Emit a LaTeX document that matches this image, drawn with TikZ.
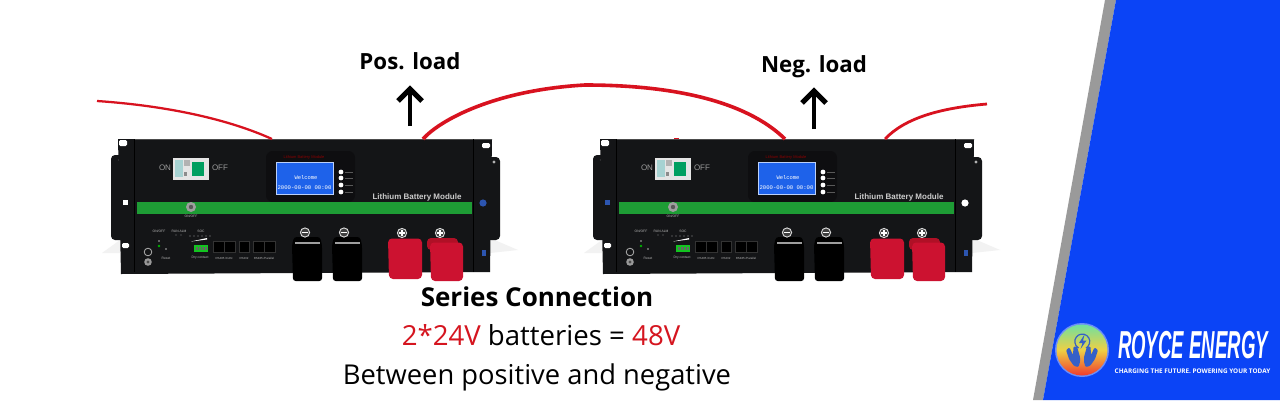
\documentclass[tikz,border=0pt]{standalone}
\usepackage{fontspec}
\setmainfont{Open Sans}
\newfontfamily\hwfont{Liberation Sans}
\newfontfamily\scrfont{Liberation Mono}
\usetikzlibrary{arrows.meta}
\definecolor{panelblack}{HTML}{141517}
\definecolor{barblue}{HTML}{0B44F6}
\definecolor{bandgray}{HTML}{9A9A9A}
\definecolor{wirered}{HTML}{D8121F}
\definecolor{txtred}{HTML}{D5151F}
\definecolor{capred}{HTML}{CC1230}
\definecolor{capdark}{HTML}{B01026}
\definecolor{barblack}{HTML}{0E0E10}
\definecolor{ledgreen}{HTML}{1E9C35}
\definecolor{lcdblue}{HTML}{1E62EA}
\definecolor{handblue}{HTML}{3560C8}
\definecolor{holeblue}{HTML}{2C55B0}
\definecolor{logotop}{HTML}{6FE0A0}
\definecolor{logomid}{HTML}{EFD043}
\definecolor{logobot}{HTML}{F03A2E}
\tikzset{
  wire/.style={draw=wirered,line cap=butt},
  upmark/.style={draw=black,line width=3.2pt,line join=miter},
  panellab/.style={inner sep=0pt,text=white!72!black,font=\hwfont\fontsize{2.5}{3}\selectfont},
  caption/.style={inner sep=0pt,anchor=base,font=\fontsize{20.7}{24}\selectfont},
  loadlab/.style={inner sep=0pt,anchor=base,font=\bfseries\fontsize{16.7}{20}\selectfont},
  portblock/.style={fill=black,draw=white!20!black,line width=.3pt},
  negcap/.style={fill=black,rounded corners=2pt},
  poscap/.style={fill=capred,rounded corners=3pt},
  termring/.style={fill=black!75,draw=white!85!black,line width=.7pt},
  batterymod/.pic={
    % soft floor glow
    \fill[black!5] (102,253) -- (120,240) -- (120,253) -- cycle;
    \fill[black!5] (490,238) -- (518,250) -- (490,253) -- cycle;
    % handles
    \fill[panelblack,rounded corners=3pt] (111,155) rectangle (136,240);
    \fill[panelblack,rounded corners=3pt] (476,157) rectangle (500,240);
    \fill[white!45!black] (119,160) circle (1.2);
    \fill[white!70!black] (494,162) circle (1.6);
    % front panel
    \fill[panelblack] (118,139) -- (492,139) -- (490,272) -- (121,274) -- cycle;
    \draw[white!30!black,line width=.5pt] (134,139) -- (492,139);
    \draw[black,line width=.3pt] (134,139) -- (134,272) (473,139) -- (473,272);
    % mounting holes
    \fill[white,rounded corners=1pt] (119,140) rectangle (127,146);
    \fill[white,rounded corners=1pt] (482,143) rectangle (490,148);
    \fill[white,rounded corners=1pt] (122,243) rectangle (129,248);
    \fill[holeL] (123,200) rectangle (128,205);
    \fill[holeR] (483,203) circle (3.6);
    \fill[holeblue] (482,250) rectangle (486,256);
    % breaker
    \fill[white!90!black] (173,158) rectangle (209,180);
    \fill[teal!75!green] (192,162) rectangle (204,176);
    \fill[teal!35!white] (175,160) rectangle (183,177);
    \fill[black!30] (184,160) rectangle (190,166);
    \fill[black!45] (184,172) rectangle (187,176);
    \node[panellab,text=white!60!black,font=\hwfont\fontsize{6}{6}\selectfont] (-on) at (165,168) {ON};
    \node[panellab,text=white!60!black,font=\hwfont\fontsize{6}{6}\selectfont] (-off) at (220,168) {OFF};
    % display
    \fill[barblack,rounded corners=5pt] (266,151) rectangle (355,202);
    \node[inner sep=0pt,text=red!55!black,font=\hwfont\fontsize{3}{3}\selectfont] (-disp) at (304,157) {Lithium Battery Module};
    \fill[lcdblue] (276,162) rectangle (333,194);
    \draw[white!70!lcdblue,line width=.4pt] (276,162) rectangle (333,194);
    \node[inner sep=0pt,text=white,font=\scrfont\fontsize{4.1}{5}\selectfont] (-wel) at (306,178) {Welcome};
    \node[inner sep=0pt,text=white,font=\scrfont\fontsize{4.2}{5}\selectfont] (-date) at (304.5,188) {2000-00-00 00:00};
    \foreach \py in {172,178,185,192}{
      \fill[white] (341,\py) circle (2.4);
      \draw[white!35!black,line width=.6pt] (345,\py) -- (353,\py);
    }
    % label and green bar
    \fill[ledgreen] (137,202) rectangle (472,214);
    \node[inner sep=0pt,text=white!80!black,font=\hwfont\bfseries\fontsize{6}{7}\selectfont] (-mod) at (417,197) {Lithium Battery Module};
    \fill[white!62!black] (191,207) circle (5);
    \fill[white!35!black] (191,207) circle (2.2);
    \node[panellab] (-key) at (191,216.5) {ON/OFF};
    % lower left indicators
    \node[panellab] (-sw) at (159,231) {ON/OFF};
    \node[panellab] (-run) at (179,231) {RUN ALM};
    \node[panellab] (-soc) at (201,231) {SOC};
    \fill[white!50!black] (176,235) circle (.6) (181,235) circle (.6);
    \foreach \dx in {190,194,198,202,206,210}{\fill[white!60!black] (\dx,236) circle (.6);}
    \fill[white] (191,241.5) -- (207,238) -- (207,239.5) -- cycle;
    \fill[ledgreen!60!green] (194,245) rectangle (208,252);
    \foreach \dx in {197,200,203,206}{\fill[black!60] (\dx-.8,247) rectangle (\dx+.8,250);}
    \fill[green!70!black] (159,246) circle (1.4);
    \fill[white!70!black] (159,241) circle (.8);
    \fill[white!70!black] (166,249) circle (.8);
    \draw[white!70!black,line width=.6pt] (148,252) circle (3.8);
    \fill[white!60!black] (148,262) circle (3.8);
    \fill[white!30!black] (148,262) circle (1.6);
    \node[panellab] (-rst) at (166,258) {Reset};
    \node[panellab] (-dry) at (200,258) {Dry contact};
    % ports
    \fill[portblock] (213,241) rectangle (224,252);
    \fill[portblock] (224,241) rectangle (235,252);
    \fill[portblock] (239,241) rectangle (249,252);
    \fill[portblock] (253,241) rectangle (264,252);
    \fill[portblock] (264,241) rectangle (275,252);
    \node[panellab,font=\hwfont\fontsize{2.2}{3}\selectfont] (-can) at (224,258) {RS485 /CAN};
    \node[panellab,font=\hwfont\fontsize{2.2}{3}\selectfont] (-232) at (244,258) {RS232};
    \node[panellab,font=\hwfont\fontsize{2.2}{3}\selectfont] (-par) at (264,258) {RS485 /Parallel};
    % negative terminals
    \foreach \tx in {292,332}{
      \fill[negcap] (\tx+2,237) -- (\tx+28,237) -- (\tx+30,245) -- (\tx+30,281) -- (\tx+1,281) -- (\tx,245) -- cycle;
      \fill[white!62!black] (\tx+3,241.5) rectangle (\tx+28,244);
    }
    \foreach \tx in {305,344}{
      \filldraw[termring] (\tx,232.5) circle (4.6);
      \draw[white,line width=1pt] (\tx-2.8,232.5) -- (\tx+2.8,232.5);
    }
    % positive terminals
    \foreach \tx in {402,440}{
      \filldraw[termring] (\tx,233) circle (4.6);
      \draw[white,line width=1pt] (\tx-2.8,233) -- (\tx+2.8,233) (\tx,233-2.8) -- (\tx,233+2.8);
    }
    \fill[poscap] (388,238.5) -- (422,238.5) -- (422,279) -- (389,279) -- cycle;
    \fill[capdark,rounded corners=3pt] (427,238) rectangle (458,250);
    \fill[poscap] (430,242.5) -- (463,242.5) -- (463,281) -- (431,281) -- cycle;
    % cable anchors on the top edge
    \coordinate (-a) at (272,139);
    \coordinate (-b) at (423,139);
    \coordinate (-c) at (303,139);
    \coordinate (-e) at (403,139);
  },
}
\begin{document}
\begin{tikzpicture}[x=.75pt,y=-.75pt]
\useasboundingbox (0,0) rectangle (1280,400);
\fill[white] (0,0) rectangle (1280,400);
% right side band
\fill[bandgray] (1105,0) -- (1116,0) -- (1043,400) -- (1033,400) -- cycle;
\fill[barblue] (1116,0) -- (1280,0) -- (1280,400) -- (1043,400) -- cycle;
% batteries
\colorlet{holeL}{white}\colorlet{holeR}{holeblue}
\pic (b1) at (0,0) {batterymod};
\colorlet{holeL}{holeblue}\colorlet{holeR}{white}
\pic (b2) at (482,0) {batterymod};
% cables
\coordinate (w1) at (97,101);
\coordinate (w2) at (987,104);
\draw[wire,line width=1.7pt] (w1) .. controls (170,106) and (230,120) .. (b1-a);
\draw[wire,line width=2.7pt] (b1-b) .. controls (440,120) and (495,90) .. (585,85) .. controls (670,85) and (745,100) .. (b2-c);
\draw[wire,line width=2.1pt] (b2-e) .. controls (905,118) and (940,108) .. (w2);
\fill[wirered] (674,137.5) rectangle (679,139);
% load labels and arrows
\node[loadlab] (pos) at (410,69) {Pos. load};
\node[loadlab] (neg) at (814,72) {Neg. load};
\coordinate (p0) at (410,126);
\coordinate (n0) at (814,129);
\draw[upmark] (p0) -- ++(0,-36);
\draw[upmark,line width=3.8pt] (398,101) -- (410,89) -- (422,101);
\draw[upmark] (n0) -- ++(0,-36);
\draw[upmark,line width=3.8pt] (802,103) -- (814,91) -- (826,103);
% captions
\node[caption,font=\bfseries\fontsize{19.5}{24}\selectfont] (t1) at (537,306) {Series Connection};
\node[caption] (t2) at (541,345) {\textcolor{txtred}{2*24V} batteries = \textcolor{txtred}{48V}};
\node[caption,font=\fontsize{20.5}{24}\selectfont] (t3) at (537,384) {Between positive and negative};
% logo
\fill[white,opacity=.4] (1082,350) circle (27);
\shade[top color=logotop,bottom color=logobot,middle color=logomid] (1082,350) circle (25.5);
\draw[handblue,line width=.9pt] (1086,348) arc[start angle=-60,end angle=240,radius=5.6pt];
\fill[handblue] (1084.5,334.5) -- (1079,343) -- (1082.5,343) -- (1080.5,349) -- (1086.5,340.5) -- (1083,340.5) -- cycle;
\fill[handblue,rounded corners=.8pt] (1066,350) -- (1069.5,347.5) -- (1073,355) -- (1073.5,346.5) -- (1077,346.5) -- (1080,357) -- (1080,362) -- (1078.5,367) -- (1074,366) -- (1069,359) -- cycle;
\fill[handblue,rounded corners=.8pt] (1098,350) -- (1094.5,347.5) -- (1091,355) -- (1090.5,346.5) -- (1087,346.5) -- (1084,357) -- (1084,362) -- (1085.5,367) -- (1090,366) -- (1095,359) -- cycle;
\node[inner sep=0pt,text=white,xscale=.93,yscale=1.95,transform shape,font=\hwfont\bfseries\itshape\fontsize{15}{15}\selectfont] (brand) at (1193,345) {ROYCE ENERGY};
\node[inner sep=0pt,text=white,font=\bfseries\fontsize{4.8}{6}\selectfont] (tag) at (1192.5,371) {CHARGING THE FUTURE. POWERING YOUR TODAY};
\end{tikzpicture}
\end{document}
